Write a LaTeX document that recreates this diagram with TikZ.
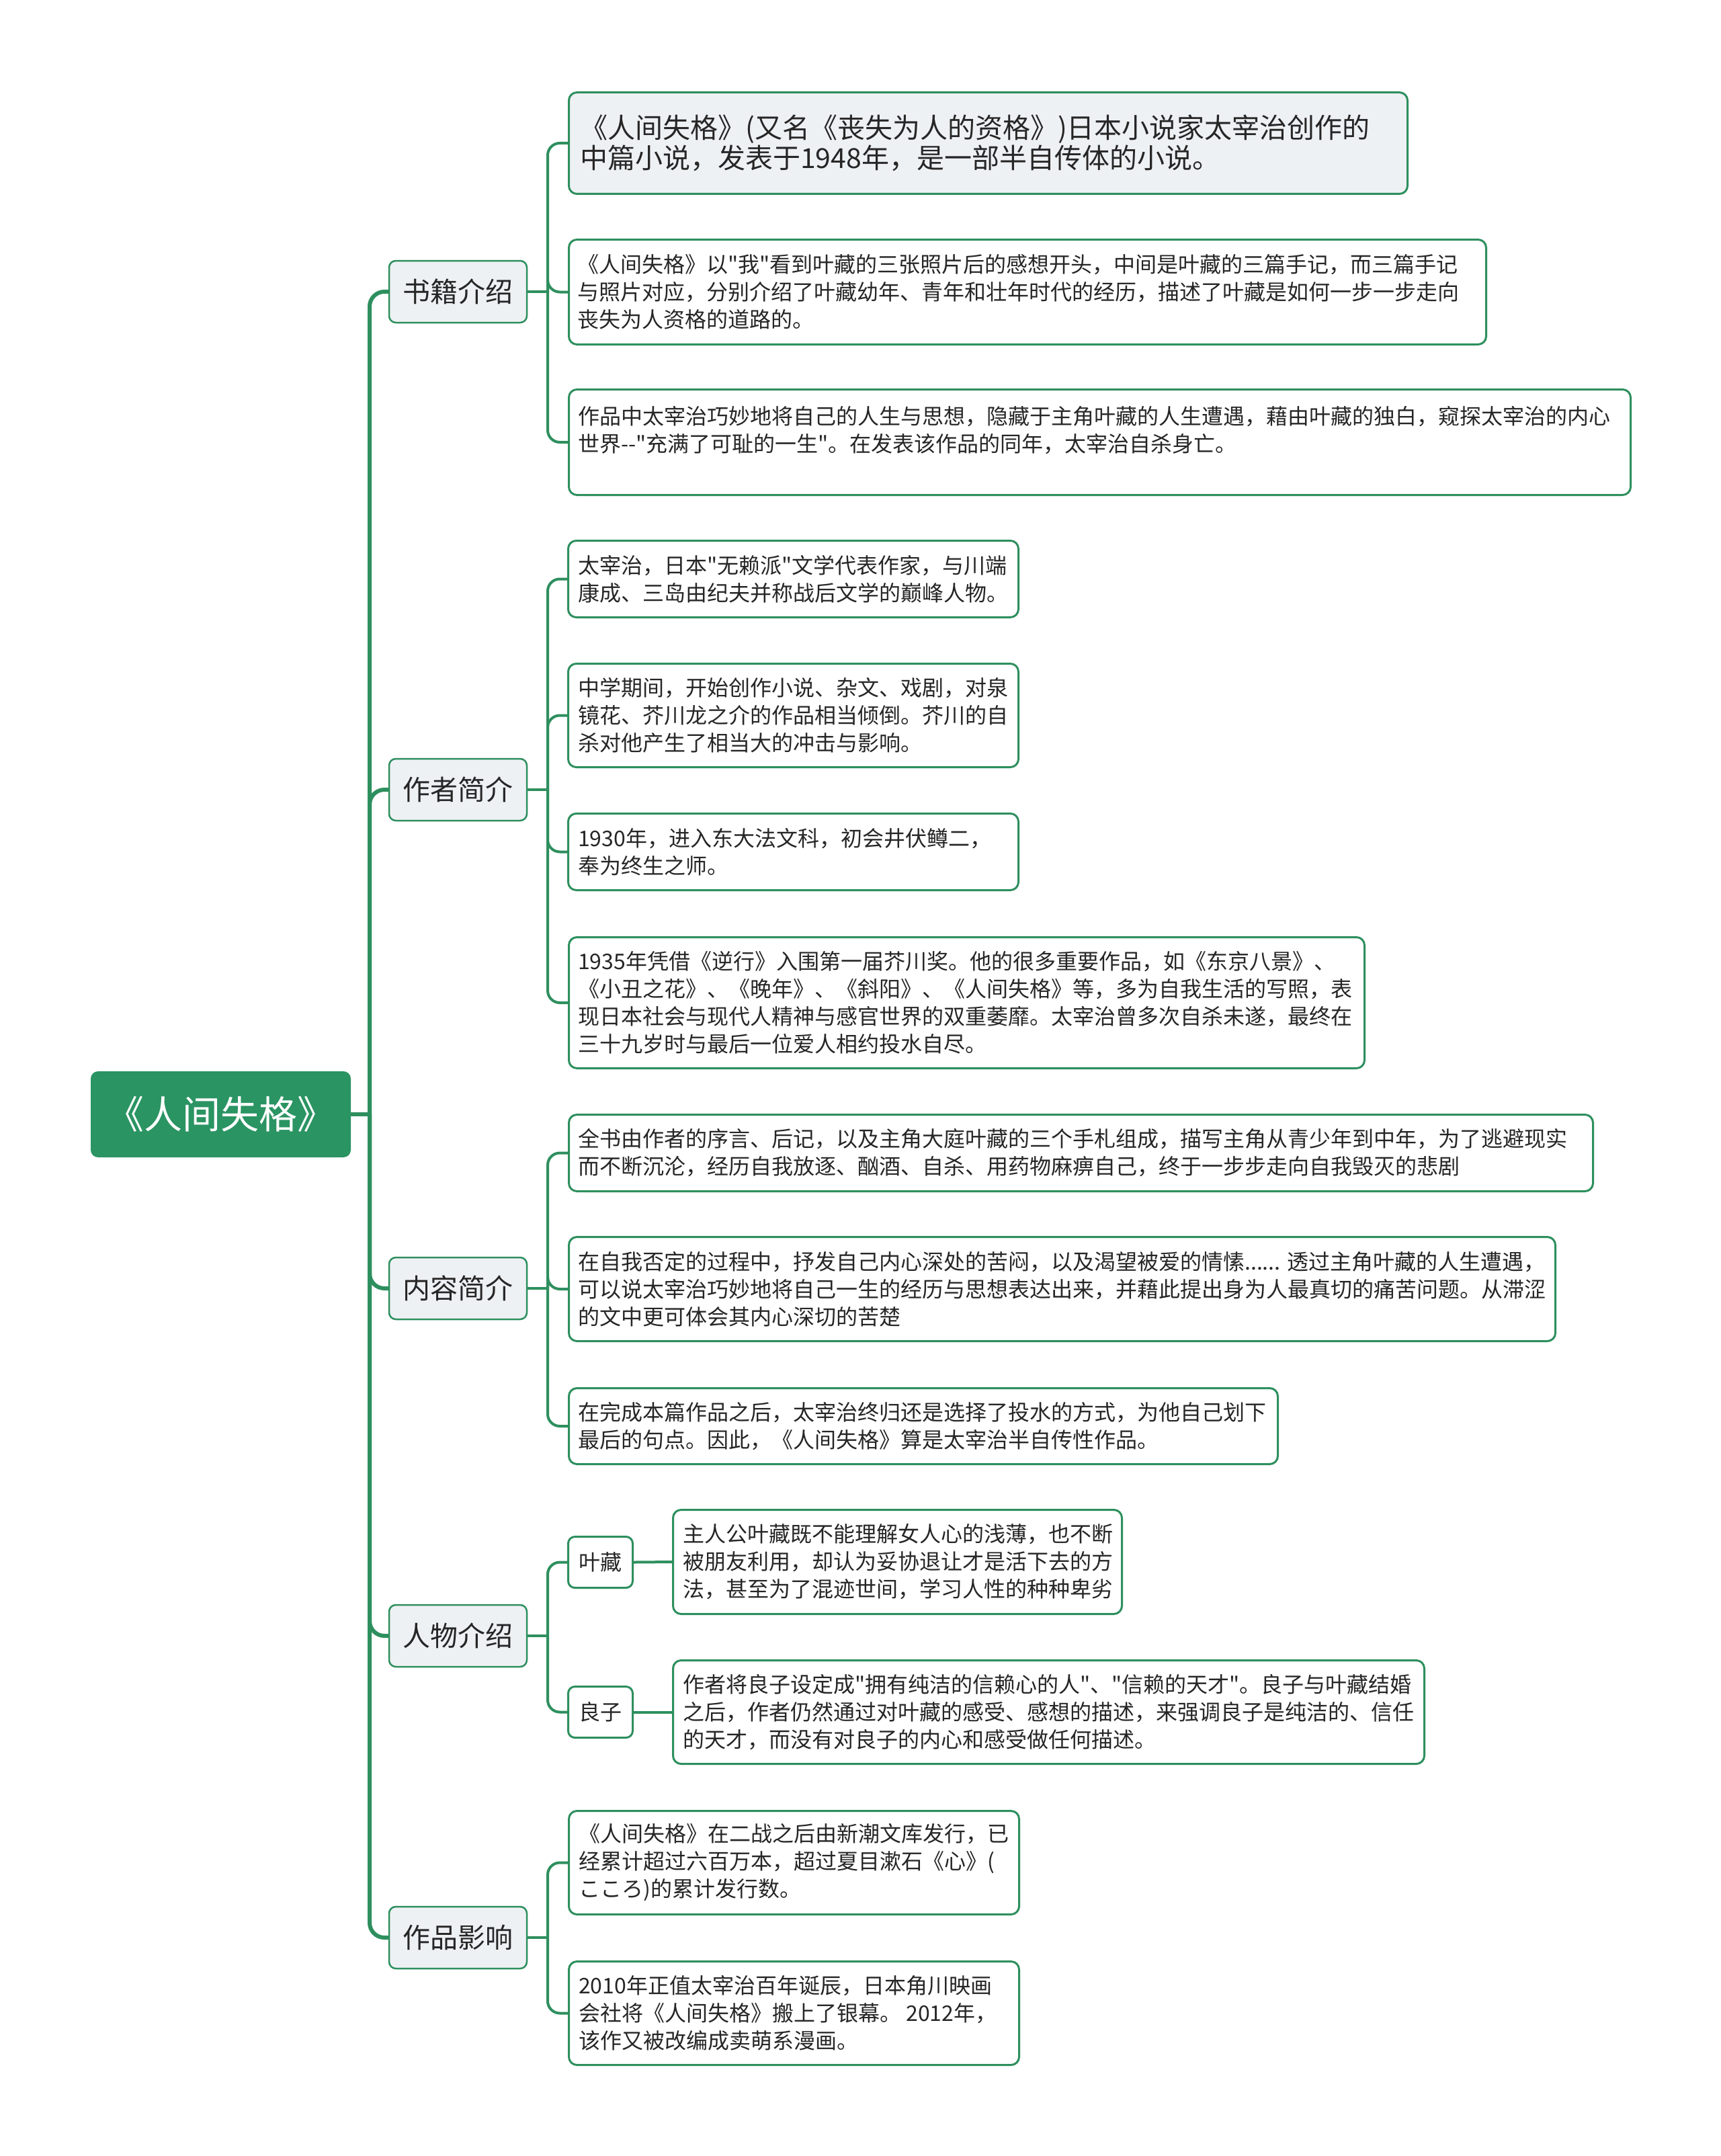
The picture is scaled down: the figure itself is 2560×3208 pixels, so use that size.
\documentclass[tikz,border=0pt]{standalone}
\usepackage{fontspec}
\setmainfont{Noto Sans CJK SC}
\newfontfamily\cjk{Noto Sans CJK SC}
\definecolor{lg}{HTML}{2E8F5E}
\definecolor{rootfill}{HTML}{2A9462}
\definecolor{lfill}{HTML}{EEF1F4}
\definecolor{tx}{HTML}{262626}
\begin{document}
\begin{tikzpicture}[x=1pt,y=-1pt,
  box/.style={draw=lg, line width=3pt, rounded corners=12pt, fill=white, inner sep=0pt, anchor=north west},
  graybox/.style={box, fill=lfill},
  lone/.style={draw=lg, line width=2.5pt, rounded corners=10pt, fill=lfill, inner sep=0pt,
     minimum width=205pt, minimum height=92pt, text=tx, font=\cjk\fontsize{41}{45}\selectfont},
  txt/.style={inner sep=0pt, anchor=west, align=left, text=tx, font=\cjk\fontsize{32}{41}\selectfont},
  bigtxt/.style={txt, font=\cjk\fontsize{41}{45}\selectfont},
  lvlone/.style={draw=lg, line width=6pt, rounded corners=22pt},
  lvltwo/.style={draw=lg, line width=4pt, rounded corners=18pt}
]
\fill[white] (0,0) rectangle (2560,3208);
\useasboundingbox (0,0) rectangle (2560,3208);

% root
\node[draw=rootfill, fill=rootfill, rounded corners=10pt, line width=2pt, minimum width=385pt, minimum height=126pt,
  inner sep=0pt, text=white, font=\cjk\fontsize{57}{60}\selectfont] (root) at (328.5,1658) {《人间失格》};

% level one
\node[lone] (n1) at (681.5,434) {书籍介绍};
\node[lone] (n2) at (681.5,1175) {作者简介};
\node[lone] (n3) at (681.5,1917) {内容简介};
\node[lone] (n4) at (681.5,2434) {人物介绍};
\node[lone] (n5) at (681.5,2883) {作品影响};

% level two boxes
\node[graybox, minimum width=1248pt, minimum height=151pt] (a1) at (845,136) {};
\node[box, minimum width=1365pt, minimum height=156pt] (a2) at (845,355) {};
\node[box, minimum width=1580pt, minimum height=157pt] (a3) at (845,578) {};
\node[box, minimum width=670pt, minimum height=114pt] (b1) at (844,803) {};
\node[box, minimum width=670pt, minimum height=154pt] (b2) at (844,986) {};
\node[box, minimum width=670pt, minimum height=114pt] (b3) at (844,1209) {};
\node[box, minimum width=1184pt, minimum height=195pt] (b4) at (845,1393) {};
\node[box, minimum width=1524pt, minimum height=114pt] (c1) at (845,1657) {};
\node[box, minimum width=1468pt, minimum height=155pt] (c2) at (845,1839) {};
\node[box, minimum width=1055pt, minimum height=113pt] (c3) at (845,2064) {};
\node[box, minimum width=96pt, minimum height=76pt, rounded corners=10pt] (p1) at (844,2285) {};
\node[box, minimum width=96pt, minimum height=76pt, rounded corners=10pt] (p2) at (844,2508) {};
\node[box, minimum width=668pt, minimum height=155pt] (d1) at (1000,2245) {};
\node[box, minimum width=1118pt, minimum height=154pt] (d2) at (1000,2469) {};
\node[box, minimum width=670pt, minimum height=154pt] (e1) at (845,2693) {};
\node[box, minimum width=670pt, minimum height=154pt] (e2) at (845,2917) {};

% texts
\node[bigtxt] (a1t) at ([xshift=18pt]a1.west) {《人间失格》(又名《丧失为人的资格》)日本小说家太宰治创作的\\中篇小说，发表于1948年，是一部半自传体的小说。};
\node[txt] (a2t) at ([xshift=14pt]a2.west) {《人间失格》以"我"看到叶藏的三张照片后的感想开头，中间是叶藏的三篇手记，而三篇手记\\与照片对应，分别介绍了叶藏幼年、青年和壮年时代的经历，描述了叶藏是如何一步一步走向\\丧失为人资格的道路的。};
\node[txt] (a3t) at ([xshift=15pt,yshift=18pt]a3.west) {作品中太宰治巧妙地将自己的人生与思想，隐藏于主角叶藏的人生遭遇，藉由叶藏的独白，窥探太宰治的内心\\世界-{}-"充满了可耻的一生"。在发表该作品的同年，太宰治自杀身亡。};
\node[txt] (b1t) at ([xshift=16pt]b1.west) {太宰治，日本"无赖派"文学代表作家，与川端\\康成、三岛由纪夫并称战后文学的巅峰人物。};
\node[txt] (b2t) at ([xshift=16pt]b2.west) {中学期间，开始创作小说、杂文、戏剧，对泉\\镜花、芥川龙之介的作品相当倾倒。芥川的自\\杀对他产生了相当大的冲击与影响。};
\node[txt] (b3t) at ([xshift=16pt]b3.west) {1930年，进入东大法文科，初会井伏鳟二，\\奉为终生之师。};
\node[txt] (b4t) at ([xshift=15pt]b4.west) {1935年凭借《逆行》入围第一届芥川奖。他的很多重要作品，如《东京八景》、\\《小丑之花》、《晚年》、《斜阳》、《人间失格》等，多为自我生活的写照，表\\现日本社会与现代人精神与感官世界的双重萎靡。太宰治曾多次自杀未遂，最终在\\三十九岁时与最后一位爱人相约投水自尽。};
\node[txt] (c1t) at ([xshift=15pt]c1.west) {全书由作者的序言、后记，以及主角大庭叶藏的三个手札组成，描写主角从青少年到中年，为了逃避现实\\而不断沉沦，经历自我放逐、酗酒、自杀、用药物麻痹自己，终于一步步走向自我毁灭的悲剧};
\node[txt] (c2t) at ([xshift=15pt]c2.west) {在自我否定的过程中，抒发自己内心深处的苦闷，以及渴望被爱的情愫...... 透过主角叶藏的人生遭遇，\\可以说太宰治巧妙地将自己一生的经历与思想表达出来，并藉此提出身为人最真切的痛苦问题。从滞涩\\的文中更可体会其内心深切的苦楚};
\node[txt] (c3t) at ([xshift=15pt]c3.west) {在完成本篇作品之后，太宰治终归还是选择了投水的方式，为他自己划下\\最后的句点。因此，《人间失格》算是太宰治半自传性作品。};
\node[txt, anchor=center] (p1t) at (p1.center) {叶藏};
\node[txt, anchor=center] (p2t) at (p2.center) {良子};
\node[txt] (d1t) at ([xshift=16pt]d1.west) {主人公叶藏既不能理解女人心的浅薄，也不断\\被朋友利用，却认为妥协退让才是活下去的方\\法，甚至为了混迹世间，学习人性的种种卑劣};
\node[txt] (d2t) at ([xshift=16pt]d2.west) {作者将良子设定成"拥有纯洁的信赖心的人"、"信赖的天才"。良子与叶藏结婚\\之后，作者仍然通过对叶藏的感受、感想的描述，来强调良子是纯洁的、信任\\的天才，而没有对良子的内心和感受做任何描述。};
\node[txt] (e1t) at ([xshift=16pt]e1.west) {《人间失格》在二战之后由新潮文库发行，已\\经累计超过六百万本，超过夏目漱石《心》(\\こころ)的累计发行数。};
\node[txt] (e2t) at ([xshift=16pt]e2.west) {2010年正值太宰治百年诞辰，日本角川映画\\会社将《人间失格》搬上了银幕。 2012年，\\该作又被改编成卖萌系漫画。};

% connectors level one
\coordinate (j0) at (550,1658);
\draw[lvlone] (root.east) -- (j0);
\foreach \n in {n1,n2,n3,n4,n5} {\draw[lvlone] (j0) |- (\n.west);}

% connectors level two
\coordinate (j1) at (815,434);
\coordinate (j2) at (815,1175);
\coordinate (j3) at (815,1917);
\coordinate (j4) at (815,2434);
\coordinate (j5) at (815,2883);
\draw[lvltwo] (n1.east) -- (j1);
\draw[lvltwo] (n2.east) -- (j2);
\draw[lvltwo] (n3.east) -- (j3);
\draw[lvltwo] (n4.east) -- (j4);
\draw[lvltwo] (n5.east) -- (j5);
\foreach \c in {a1,a2,a3} {\draw[lvltwo] (j1) |- (\c.west);}
\foreach \c in {b1,b2,b3,b4} {\draw[lvltwo] (j2) |- (\c.west);}
\foreach \c in {c1,c2,c3} {\draw[lvltwo] (j3) |- (\c.west);}
\foreach \c in {p1,p2} {\draw[lvltwo] (j4) |- (\c.west);}
\foreach \c in {e1,e2} {\draw[lvltwo] (j5) |- (\c.west);}
\draw[lvltwo] (p1.east) -- (d1.west);
\draw[lvltwo] (p2.east) -- (d2.west);
\end{tikzpicture}
\end{document}
